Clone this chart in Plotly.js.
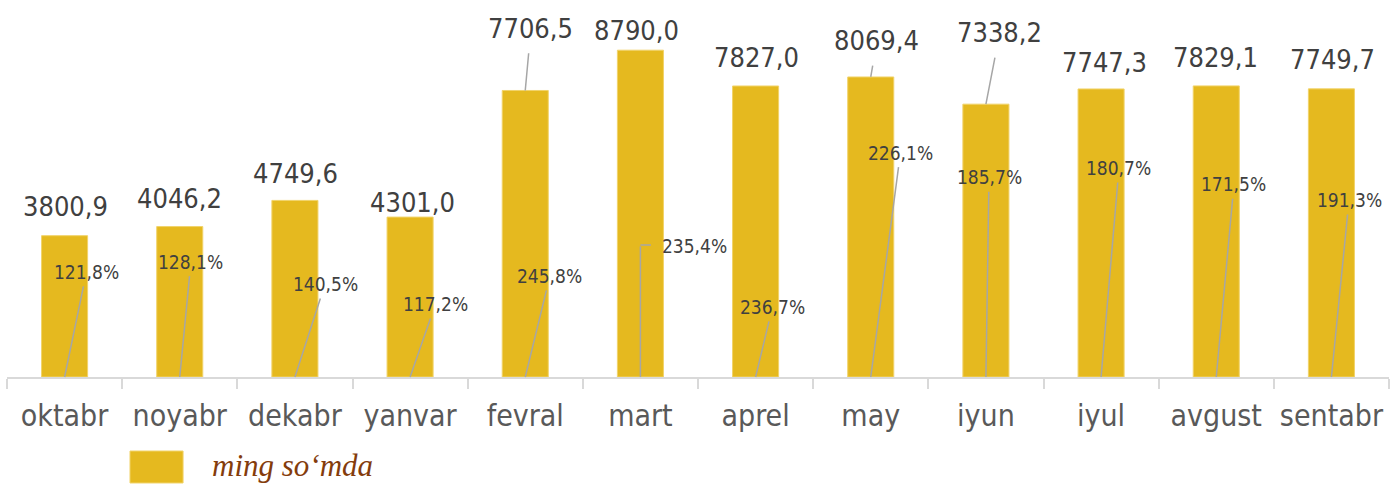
<!DOCTYPE html>
<html>
<head>
<meta charset="utf-8">
<script src="https://cdn.plot.ly/plotly-3.0.1.min.js"></script>
<style>html,body{margin:0;padding:0;background:#fff;}#chart{width:1390px;height:485px;}</style>
</head>
<body>
<div id="chart"></div>
<script>
// ---- data ----
const months = ["oktabr","noyabr","dekabr","yanvar","fevral","mart","aprel","may","iyun","iyul","avgust","sentabr"];
const values = [3800.9,4046.2,4749.6,4301.0,7706.5,8790.0,7827.0,8069.4,7338.2,7747.3,7829.1,7749.7];
const valueLabels = ["3800,9","4046,2","4749,6","4301,0","7706,5","8790,0","7827,0","8069,4","7338,2","7747,3","7829,1","7749,7"];
const growthLabels = ["121,8%","128,1%","140,5%","117,2%","245,8%","235,4%","236,7%","226,1%","185,7%","180,7%","171,5%","191,3%"];
const seriesName = "ming so‘mda";

// ---- label placement (pixel offsets, style only) ----
// value labels: [dx, dy(up), leader?]
const valPos = [[0.7,29,false],[-0.1,28.3,false],[0.1,27.1,false],[2.9,14.7,false],[5.7,62.2,true],[-4.4,19.5,false],
                [1.1,28.7,false],[6.2,36.3,true],[13.8,71.5,true],[3.4,26.7,false],[-0.6,28.6,false],[0.6,28.9,false]];
// growth labels: [dx, dy(up), mode]  mode: 'line' | 'elbow'
const pctPos = [[21.9,105,'line'],[11.2,115.3,'line'],[30.1,93,'line'],[25.4,73,'line'],[24.7,101,'line'],[53.6,131,'elbow'],
                [16.9,70,'line'],[29.7,224.3,'line'],[3.1,199.7,'line'],[17.9,209,'line'],[17.7,192.7,'line'],[17.6,177,'line']];

const GOLD = '#E5B91F';
const LEAD = '#A6A6A6';
const valFont = {family:'"DejaVu Sans Condensed","DejaVu Sans",sans-serif', size:27, color:'#404040'};
const pctFont = {family:'"DejaVu Sans Condensed","DejaVu Sans",sans-serif', size:19, color:'#404040'};

const annotations = [];
months.forEach((m,i)=>{
  const vp = valPos[i];
  if (vp[2]) {
    annotations.push({x:m, y:values[i], xref:'x', yref:'y', text:valueLabels[i], font:valFont,
      showarrow:true, arrowhead:0, arrowwidth:1.5, arrowcolor:LEAD, ax:vp[0], ay:-vp[1], startstandoff:8});
  } else {
    annotations.push({x:m, y:values[i], xref:'x', yref:'y', text:valueLabels[i], font:valFont,
      showarrow:false, xanchor:'center', yanchor:'middle', xshift:vp[0], yshift:vp[1]});
  }
  const pp = pctPos[i];
  if (pp[2]==='line') {
    annotations.push({x:m, y:0, xref:'x', yref:'y', text:growthLabels[i], font:pctFont,
      showarrow:true, arrowhead:0, arrowwidth:1.5, arrowcolor:LEAD, ax:pp[0], ay:-pp[1], startstandoff:2});
  } else {
    annotations.push({x:m, y:0, xref:'x', yref:'y', text:growthLabels[i], font:pctFont,
      showarrow:false, xanchor:'center', yanchor:'middle', xshift:pp[0], yshift:pp[1]});
    annotations.push({x:m, y:0, xref:'x', yref:'y', text:'', showarrow:true, arrowhead:0,
      arrowwidth:1.5, arrowcolor:LEAD, ax:0, ay:-pp[1]-1});
    annotations.push({x:m, y:0, xref:'x', yref:'y', text:'', showarrow:true, arrowhead:0,
      arrowwidth:1.5, arrowcolor:LEAD, ax:12, ay:0, yshift:pp[1]+1});
  }
});
// legend text
annotations.push({xref:'paper', yref:'paper', x:0.1469, y:-0.249, xanchor:'left', yanchor:'middle',
  text:'<i>'+seriesName+'</i>', showarrow:false,
  font:{family:'"Liberation Serif","DejaVu Serif",serif', size:31, color:'#843C0C'}});

const trace = {
  type:'bar', x:months, y:values, width:0.4,
  marker:{color:GOLD, line:{color:'#F1D36A', width:1}},
  hoverinfo:'none', showlegend:false
};

const layout = {
  width:1390, height:485,
  margin:{l:7, r:1, t:20, b:108},
  paper_bgcolor:'#fff', plot_bgcolor:'#fff',
  bargap:0.6,
  xaxis:{type:'category', showline:true, linecolor:'#D9D9D9', linewidth:2,
         ticks:'outside', tickson:'boundaries', ticklen:10, tickcolor:'#D9D9D9', tickwidth:2,
         ticklabelstandoff:11,
         tickfont:{family:'"DejaVu Sans Condensed","DejaVu Sans",sans-serif', size:30, color:'#595959'},
         showgrid:false, zeroline:false, fixedrange:true},
  yaxis:{range:[0,9602], visible:false, showgrid:false, zeroline:false, fixedrange:true},
  shapes:[{type:'rect', xref:'paper', yref:'paper', x0:0.0890, x1:0.1274, y0:-0.2073, y1:-0.2969,
           fillcolor:GOLD, line:{color:'#F1D36A', width:1}}],
  annotations:annotations,
  showlegend:false
};

Plotly.newPlot('chart', [trace], layout, {displayModeBar:false, staticPlot:true});
</script>
</body>
</html>
